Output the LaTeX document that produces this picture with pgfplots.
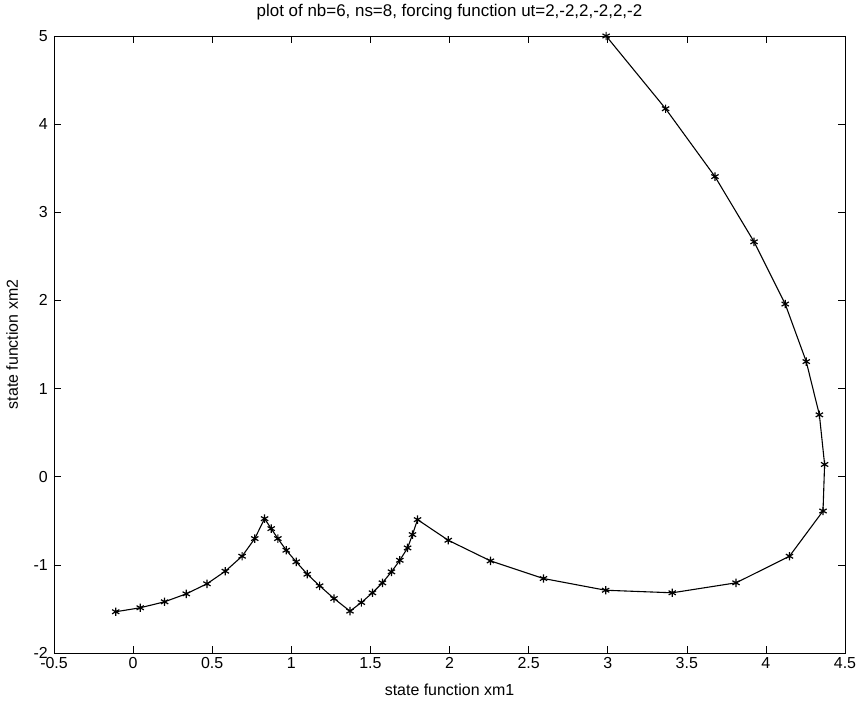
\documentclass[border=0pt]{standalone}
\usepackage{fontspec}
\setmainfont{Liberation Sans}
\usepackage{pgfplots}
\pgfplotsset{compat=1.18}
\pgfplotstableread{
x y
-0.110 -1.532
0.045 -1.487
0.199 -1.419
0.336 -1.329
0.467 -1.215
0.583 -1.072
0.689 -0.902
0.769 -0.702
0.831 -0.476
0.873 -0.589
0.915 -0.702
0.968 -0.834
1.031 -0.966
1.101 -1.106
1.179 -1.238
1.270 -1.382
1.371 -1.525
1.443 -1.427
1.513 -1.317
1.576 -1.204
1.633 -1.079
1.686 -0.948
1.735 -0.808
1.766 -0.657
1.798 -0.487
1.992 -0.721
2.259 -0.955
2.594 -1.155
2.987 -1.288
3.408 -1.317
3.811 -1.204
4.149 -0.902
4.361 -0.389
4.371 0.139
4.338 0.702
4.255 1.306
4.122 1.959
3.925 2.665
3.678 3.405
3.366 4.175
2.990 5.000
}\traj
\begin{document}
\begin{tikzpicture}
\begin{axis}[
  width=791bp, height=617bp, scale only axis,
  xmin=-0.5, xmax=4.5, ymin=-2, ymax=5,
  xtick={-0.5,0,0.5,1,1.5,2,2.5,3,3.5,4,4.5},
  xticklabels={-0.5,0,0.5,1,1.5,2,2.5,3,3.5,4,4.5},
  ytick={-2,-1,0,1,2,3,4,5},
  yticklabels={-2,-1,0,1,2,3,4,5},
  tick align=inside, tick pos=both,
  major tick length=7bp,
  axis line style={black, line width=0.8pt},
  tick style={black, line width=0.6pt},
  ticklabel style={font=\fontsize{16}{18}\selectfont},
  xticklabel style={inner sep=1bp, yshift=-3bp},
  yticklabel style={inner sep=1bp, xshift=-5bp},
  label style={font=\fontsize{16}{18}\selectfont},
  title style={font=\fontsize{17}{19}\selectfont, at={(axis description cs:0.5,1.029)}, anchor=center},
  xlabel style={at={(axis description cs:0.5,-0.060)}, anchor=center},
  ylabel style={at={(axis description cs:-0.053,0.5)}, anchor=center},
  title={plot of nb=6, ns=8, forcing function ut=2,-2,2,-2,2,-2},
  xlabel={state function xm1},
  ylabel={state function xm2},
  clip=false,
]
\addplot[black, line width=1.1pt, mark=asterisk, mark size=4.2bp, mark options={line width=1.2pt}] table {\traj};
\end{axis}
\pgfresetboundingbox
\path[use as bounding box] ([shift={(-54bp,-49bp)}]current axis.south west) rectangle ([shift={(12bp,36bp)}]current axis.north east);
\end{tikzpicture}
\end{document}
